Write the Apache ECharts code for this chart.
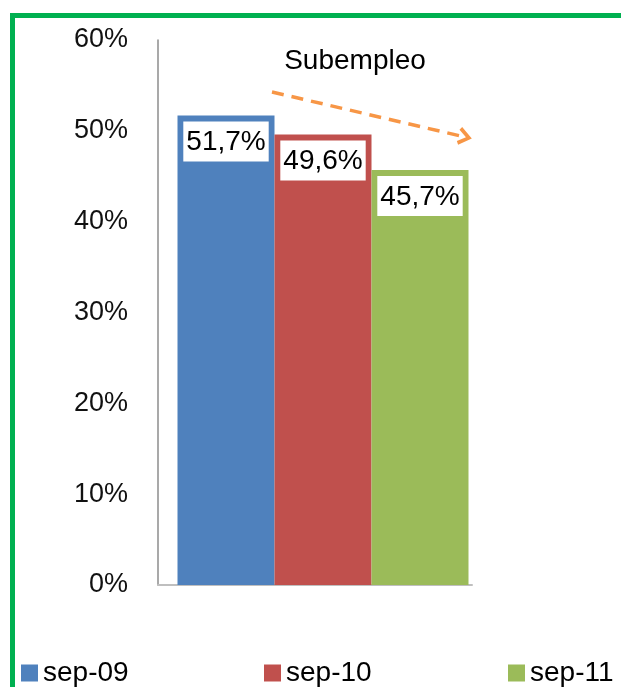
<!DOCTYPE html>
<html>
<head>
<meta charset="utf-8">
<script src="https://cdn.jsdelivr.net/npm/echarts@6/dist/echarts.min.js"></script>
<style>
  html, body { margin: 0; padding: 0; background: #fff; }
  #chart { width: 621px; height: 687px; }
</style>
</head>
<body>
<div id="chart"></div>
<script>
// datos
const categories = ['Subempleo']
const seriesNames = ['sep-09', 'sep-10', 'sep-11']
const seriesValues = [[51.7], [49.6], [45.7]]
const seriesColors = ['#4F81BD', '#C0504D', '#9BBB59']
const yMax = 60
const yInterval = 10

const font = 'Liberation Sans'
const chart = echarts.init(document.getElementById('chart'))

const series = seriesNames.map((name, i) => ({
  name: name,
  type: 'bar',
  xAxisIndex: 1,
  yAxisIndex: 1,
  data: seriesValues[i],
  barWidth: 97,
  barGap: '0%',
  itemStyle: { color: seriesColors[i] },
  label: {
    show: true,
    position: 'insideTop',
    distance: 6,
    color: '#000',
    fontFamily: font,
    fontSize: 28,
    backgroundColor: '#fff',
    padding: [7, 3, 5, 3],
    formatter: (p) => String(p.value).replace('.', ',') + '%'
  }
}))

// flecha de tendencia (anotación)
series[0].markLine = {
  silent: true,
  symbol: ['none', 'path://M0,12 L10,0 L20,12 L16.5,14 L10,6 L3.5,14 Z'],
  symbolSize: [18, 14],
  label: { show: false },
  lineStyle: { color: '#F79646', width: 3.5, type: [12, 8] },
  data: [[{ x: 272, y: 92 }, { x: 465, y: 137 }]]
}

const legendLefts = [16, 259, 503]
const legends = seriesNames.map((name, i) => ({
  data: [name],
  left: legendLefts[i],
  top: 654,
  icon: 'rect',
  itemWidth: 17,
  itemHeight: 17,
  itemGap: 9,
  textStyle: { fontFamily: font, fontSize: 28, color: '#000', padding: [0, 0, 0, 0] }
}))

const option = {
  animation: false,
  title: {
    text: categories[0],
    left: 350,
    textAlign: 'center',
    top: 42,
    textStyle: { fontFamily: font, fontSize: 28, fontWeight: 'normal', color: '#000' }
  },
  legend: legends,
  graphic: [
    { type: 'rect', shape: { x: 10, y: 13, width: 611, height: 5 }, style: { fill: '#00B050' } },
    { type: 'rect', shape: { x: 10, y: 13, width: 5, height: 674 }, style: { fill: '#00B050' } }
  ],
  grid: [
    { left: 158, right: 149, top: 40, bottom: 102 },
    { left: 162, right: 137, top: 40, bottom: 102 }
  ],
  xAxis: [
    {
      gridIndex: 0,
      type: 'category',
      data: categories,
      axisLine: { lineStyle: { color: '#BFBFBF', width: 2 } },
      axisTick: { show: false },
      axisLabel: { show: false }
    },
    {
      gridIndex: 1,
      type: 'category',
      data: categories,
      show: false
    }
  ],
  yAxis: [
    {
      gridIndex: 0,
      type: 'value',
      min: 0,
      max: yMax,
      interval: yInterval,
      axisLine: { show: true, lineStyle: { color: '#8C8C8C', width: 1.5 } },
      axisTick: { show: false },
      splitLine: { show: false },
      axisLabel: {
        margin: 30,
        fontFamily: font,
        fontSize: 27,
        color: '#111',
        formatter: '{value}%'
      }
    },
    {
      gridIndex: 1,
      type: 'value',
      min: 0,
      max: yMax,
      interval: yInterval,
      show: false,
      splitLine: { show: false }
    }
  ],
  series: series
}

chart.setOption(option)
</script>
</body>
</html>
